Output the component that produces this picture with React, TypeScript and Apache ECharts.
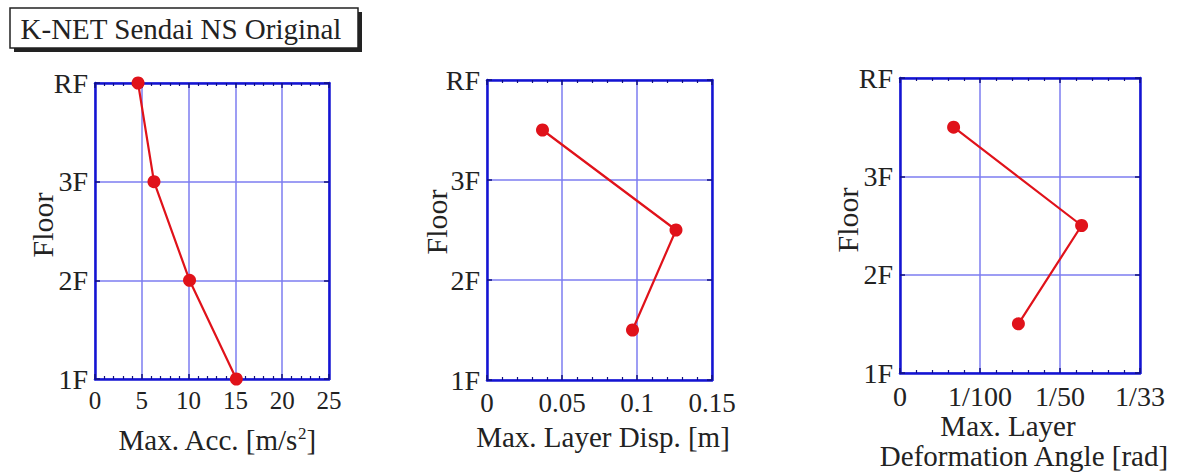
import React, { useEffect, useRef } from 'react';
import * as echarts from 'echarts';

const floorLabels = ['1F', '2F', '3F', 'RF'];
const accFloors = [1, 2, 3, 4];
const accValues = [15.1, 10.1, 6.3, 4.6];
const dispFloors = [1.5, 2.5, 3.5];
const dispValues = [0.097, 0.126, 0.037];
const angleFloors = [1.5, 2.5, 3.5];
const angleValues = [0.0148, 0.0227, 0.0067];
const angleTickLabels = ['0', '1/100', '1/50', '1/33'];

const FONT = "'Liberation Serif', 'Times New Roman', serif";
const AXIS_BLUE = '#1414d2';
const GRID_BLUE = '#7c7cf0';
const RED = '#e0121a';

function pairs(xs: number[], ys: number[]) {
  return xs.map((x, i) => [x, ys[i]]);
}

export default function App() {
  const ref = useRef<HTMLDivElement>(null);
  useEffect(() => {
    if (!ref.current) return;
    const chart = echarts.init(ref.current, undefined, { renderer: 'svg' });

    const grids = [
      { left: 95, top: 83, width: 234, height: 296 },
      { left: 487, top: 80, width: 225, height: 300 },
      { left: 900, top: 78, width: 240, height: 295 },
    ];
    const xDefs = [
      { min: 0, max: 25, interval: 5, fontSize: 25, fmt: (v: number) => String(v) },
      { min: 0, max: 0.15, interval: 0.05, fontSize: 27, fmt: (v: number) => String(Math.round(v * 100) / 100) },
      { min: 0, max: 0.03, interval: 0.01, fontSize: 28, fmt: (v: number) => angleTickLabels[Math.round(v / 0.01)] ?? '' },
    ];

    const xAxis: any[] = [];
    const yAxis: any[] = [];
    grids.forEach((g, i) => {
      const d = xDefs[i];
      const common = {
        type: 'value',
        gridIndex: i,
        min: d.min,
        max: d.max,
        interval: d.interval,
        axisLine: { show: true, onZero: false, lineStyle: { color: AXIS_BLUE, width: 2.5 } },
        axisTick: { show: true, inside: true, length: 5, lineStyle: { color: '#101080', width: 1.5 } },
        minorTick: { show: true, splitNumber: 5, length: 3, lineStyle: { color: '#101080', width: 1.2 } },
      };
      xAxis.push({
        ...common,
        position: 'bottom',
        axisLabel: { show: true, margin: 9, fontSize: d.fontSize, fontFamily: FONT, color: '#222', formatter: d.fmt },
        splitLine: { show: true, lineStyle: { color: GRID_BLUE, width: 1.5 } },
      });
      xAxis.push({
        ...common,
        position: 'top',
        axisLabel: { show: false },
        splitLine: { show: false },
      });
      const ycommon = {
        type: 'value',
        gridIndex: i,
        min: 1,
        max: 4,
        interval: 1,
        axisLine: { show: true, onZero: false, lineStyle: { color: AXIS_BLUE, width: 2.5 } },
        axisTick: { show: true, inside: true, length: 5, lineStyle: { color: '#101080', width: 1.5 } },
      };
      yAxis.push({
        ...ycommon,
        position: 'left',
        axisLabel: {
          show: true, margin: 7, fontSize: 28, fontFamily: FONT, color: '#222',
          formatter: (v: number) => floorLabels[Math.round(v) - 1] ?? '',
        },
        splitLine: { show: true, lineStyle: { color: GRID_BLUE, width: 1.5 } },
      });
      yAxis.push({
        ...ycommon,
        position: 'right',
        axisLabel: { show: false },
        splitLine: { show: false },
      });
    });

    const seriesData = [
      pairs(accValues, accFloors),
      pairs(dispValues, dispFloors),
      pairs(angleValues, angleFloors),
    ];
    const series = seriesData.map((data, i) => ({
      type: 'line',
      xAxisIndex: i * 2,
      yAxisIndex: i * 2,
      data,
      symbol: 'circle',
      symbolSize: 13,
      lineStyle: { color: RED, width: 2.2 },
      itemStyle: { color: RED },
      z: 5,
      clip: false,
    }));

    const txt = (x: number, y: number, text: string, fontSize: number, rotation = 0) => ({
      type: 'text',
      x, y, rotation,
      style: { text, fontSize, fontFamily: FONT, fill: '#222', align: 'center', verticalAlign: 'middle' },
    });

    const graphic: any[] = [
      { type: 'rect', shape: { x: 14, y: 12, width: 348, height: 40 }, style: { fill: '#222' } },
      { type: 'rect', shape: { x: 10, y: 8, width: 348, height: 40 }, style: { fill: '#fff', stroke: '#222', lineWidth: 1.5 } },
      txt(181, 29, 'K-NET Sendai NS Original', 29),
      {
        type: 'text', x: 217, y: 440,
        style: {
          text: 'Max. Acc. [m/s{sup|2}]', fontSize: 29, fontFamily: FONT, fill: '#222', align: 'center', verticalAlign: 'middle',
          rich: { sup: { fontSize: 17, fontFamily: FONT, verticalAlign: 'top', padding: [0, 0, 14, 0] } },
        },
      },
      txt(603, 437, 'Max. Layer Disp. [m]', 29),
      txt(1008, 426, 'Max. Layer', 29),
      txt(1024, 456, 'Deformation Angle [rad]', 29),
      txt(42, 225, 'Floor', 30, Math.PI / 2),
      txt(436, 222, 'Floor', 30, Math.PI / 2),
      txt(847, 220, 'Floor', 30, Math.PI / 2),
    ];

    chart.setOption({
      animation: false,
      backgroundColor: '#fff',
      grid: grids,
      xAxis,
      yAxis,
      series,
      graphic,
    });
    return () => chart.dispose();
  }, []);
  return <div ref={ref} style={{ position: 'absolute', left: 0, top: 0, width: 1187, height: 472 }} />;
}
